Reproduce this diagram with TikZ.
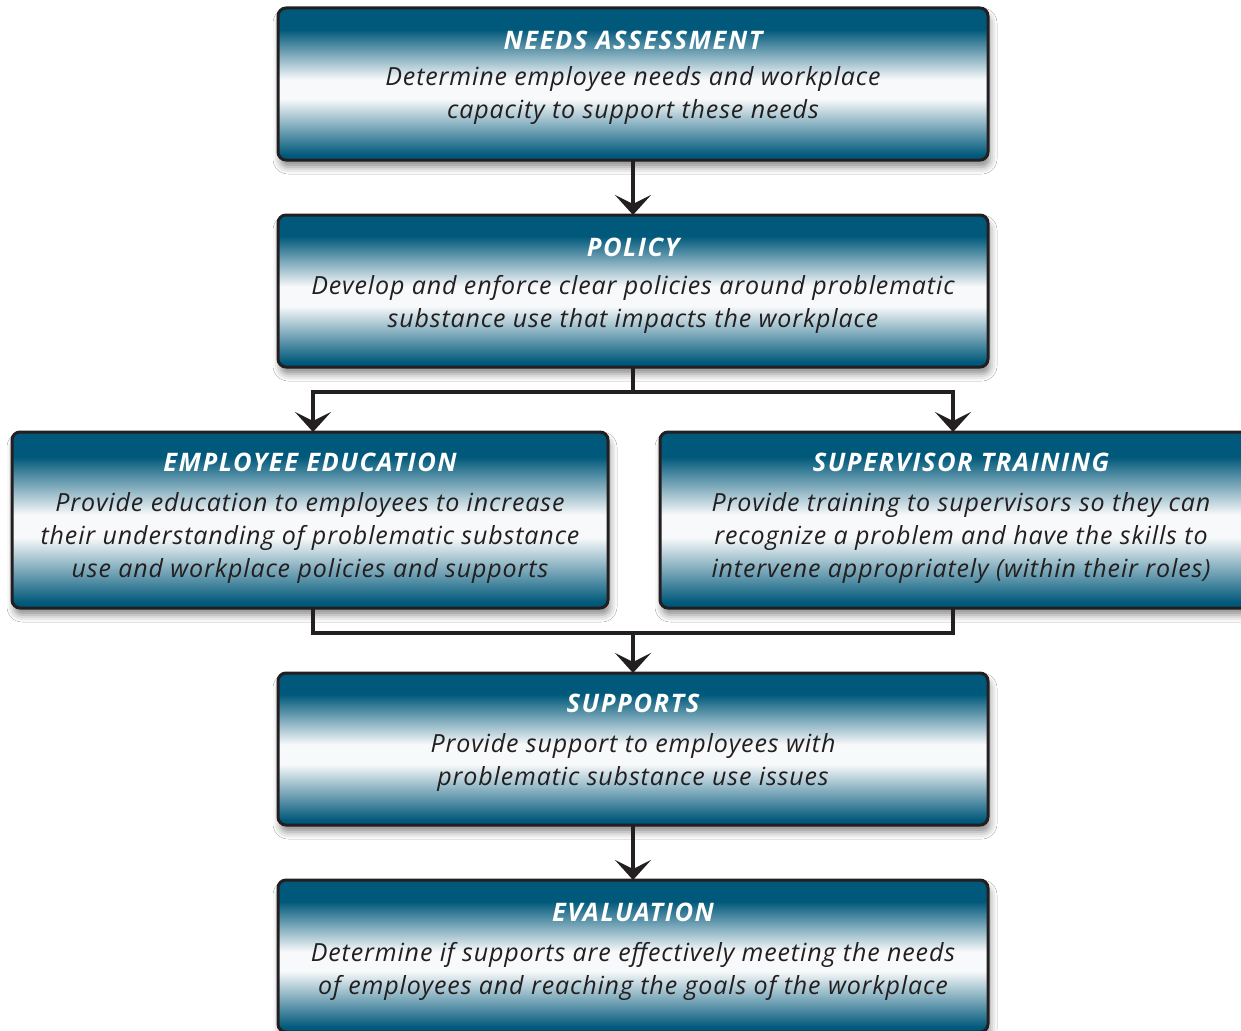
\documentclass[tikz,border=0pt]{standalone}
\usepackage{fontspec}
\setmainfont{Open Sans}[LetterSpace=3.5]
\newfontfamily\ttlfont{Open Sans}[LetterSpace=6]
\usetikzlibrary{arrows.meta,shadows.blur,calc}
\definecolor{dk}{RGB}{0,88,122}
\definecolor{wh}{RGB}{247,249,250}
\definecolor{ink}{RGB}{35,31,32}
\pgfdeclareverticalshading{boxshade}{100bp}{color(0bp)=(dk); color(25bp)=(dk); color(26.5bp)=(dk); color(45bp)=(wh); color(51.5bp)=(wh); color(68bp)=(dk); color(75bp)=(dk); color(100bp)=(dk)}
\tikzset{
  box/.style={draw=ink, line width=3pt, rounded corners=8pt, shading=boxshade,
    inner sep=0pt, outer sep=0pt,
    blur shadow={shadow xshift=2pt, shadow yshift=-7pt, shadow blur radius=7pt, shadow opacity=45}},
  widebox/.style={box, minimum width=710pt, minimum height=152pt},
  sidebox/.style={box, minimum width=596pt, minimum height=176pt},
  txt/.style={anchor=north, inner sep=0pt, align=center, text=ink,
    font=\fontsize{25}{33}\selectfont\itshape},
  conn/.style={line width=4pt, draw=ink},
  arr/.style={conn, -{Stealth[length=20pt,width=36pt,inset=9pt]}}
}
\newcommand{\ttl}[1]{{\fontsize{25.5}{33}\selectfont\ttlfont\bfseries\itshape\color{white}#1}}
\begin{document}
\begin{tikzpicture}[x=1pt,y=-1pt]
\useasboundingbox (0,0) rectangle (1241,1030);
\fill[white] (0,0) rectangle (1241,1030);

\node[widebox] (needs) at (633,84) {};
\node[widebox] (policy) at (633,291) {};
\node[sidebox] (empl) at (310,520) {};
\node[sidebox] (sup) at (958,520) {};
\node[widebox] (supports) at (633,749) {};
\node[widebox] (eval) at (633,956) {};

\node[txt] (needs-t) at ($(needs.north)+(0,22.5)$) {\ttl{NEEDS ASSESSMENT}\\[3pt]Determine employee needs and workplace\\capacity to support these needs};
\node[txt] (policy-t) at ($(policy.north)+(0,22.5)$) {\ttl{POLICY}\\[5pt]Develop and enforce clear policies around problematic\\substance use that impacts the workplace};
\node[txt] (empl-t) at ($(empl.north)+(0,20.5)$) {\ttl{EMPLOYEE EDUCATION}\\[7pt]Provide education to employees to increase\\their understanding of problematic substance\\use and workplace policies and supports};
\node[txt] (sup-t) at ($(sup.north)+(3,20.5)$) {\ttl{SUPERVISOR TRAINING}\\[7pt]Provide training to supervisors so they can\\recognize a problem and have the skills to\\intervene appropriately (within their roles)};
\node[txt] (supports-t) at ($(supports.north)+(0,20.5)$) {\ttl{SUPPORTS}\\[7pt]Provide support to employees with\\problematic substance use issues};
\node[txt] (eval-t) at ($(eval.north)+(0,22.5)$) {\ttl{EVALUATION}\\[7pt]Determine if supports are effectively meeting the needs\\of employees and reaching the goals of the workplace};

\coordinate (sl) at (313,392);
\coordinate (sr) at (953,392);
\coordinate (ml) at (313,633);
\coordinate (mr) at (953,633);
\coordinate (mc) at (633,633);

\draw[arr] (needs) -- (policy);
\draw[arr] (policy.south) |- (sl) -- (sl |- empl.north);
\draw[arr] (policy.south) |- (sr) -- (sr |- sup.north);
\draw[conn] (ml |- empl.south) |- (mc);
\draw[conn] (mr |- sup.south) |- (mc);
\draw[arr] (mc) -- (supports.north);
\draw[arr] (supports) -- (eval);
\end{tikzpicture}
\end{document}
